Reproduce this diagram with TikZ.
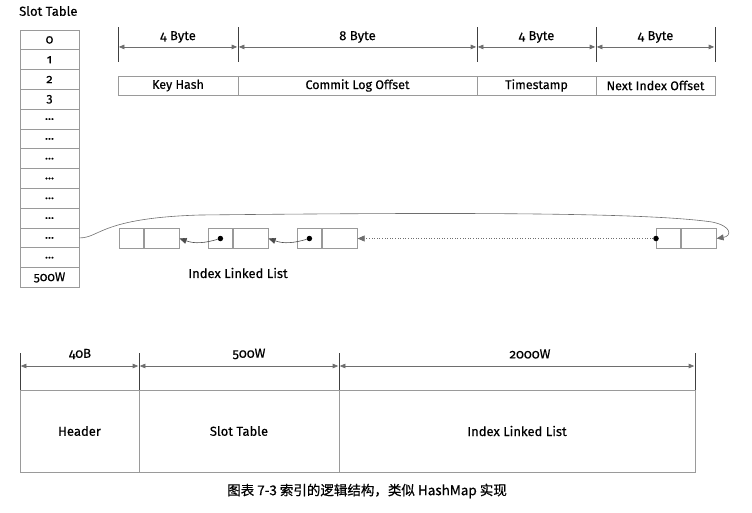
\documentclass[tikz,border=0pt]{standalone}
\usepackage{fontspec}
\setmainfont{Fira Sans}[Numbers=OldStyle,FakeBold=0.35]
\newfontfamily\cjk{Noto Sans CJK SC}[FakeBold=0.6]
\usetikzlibrary{arrows.meta,calc}
\definecolor{boxgray}{HTML}{9A9A9A}
\definecolor{linegray}{HTML}{6E6E6E}
\newcommand\sdots{...}
\tikzset{
  cellbox/.style={draw=boxgray, line width=0.8pt, inner sep=0pt, minimum height=19.8pt, font=\fontsize{12.5}{13}\selectfont},
  tickline/.style={draw=black!75, line width=0.7pt},
  dimline/.style={draw=linegray, line width=0.6pt, {Triangle[length=5.5pt,width=4.5pt]}-{Triangle[length=5.5pt,width=4.5pt]}},
  lbl/.style={inner sep=1pt, font=\fontsize{13}{14}\selectfont},
  ptr/.style={draw=black!70, line width=0.6pt, -{Triangle[length=7pt,width=6pt]}},
  dot/.style={circle, fill=black, inner sep=0pt, minimum size=5.5pt},
}
\begin{document}
\begin{tikzpicture}[x=1pt,y=-1pt]
\useasboundingbox (0,0) rectangle (752,512);
% Slot table
\node[lbl, anchor=west] (sttitle) at (18,11) {Slot Table};
\foreach \i/\t in {0/0,1/1,2/2,3/3,4/\sdots,5/\sdots,6/\sdots,7/\sdots,8/\sdots,9/\sdots,10/\sdots,11/\sdots,12/500W}{
  \node[cellbox, minimum width=59pt] (s\i) at (49.5,{30+9.9+19.8*\i}) {\t};
}
% record layout: ticks
\foreach \n/\x in {a/118,b/238,c/477,d/596,e/715}{
  \coordinate (t\n1) at (\x,27);
  \coordinate (t\n2) at (\x,62);
  \draw[tickline] (t\n1) -- (t\n2);
}
\foreach \p/\q/\t in {a/b/4 Byte,b/c/8 Byte,c/d/4 Byte,d/e/4 Byte}{
  \draw[dimline] ($(t\p1)!0.57!(t\p2)+(0.8,0)$) -- ($(t\q1)!0.57!(t\q2)-(0.8,0)$);
  \node[lbl] at ($(t\p1)!0.5!(t\q1)+(0,10)$) {\t};
}
% record fields
\foreach \n/\a/\b/\t in {f1/118/238/Key Hash,f2/238/477/Commit Log Offset,f3/477/596/Timestamp,f4/596/715/Next Index Offset}{
  \node[cellbox, minimum width={\b-\a}, minimum height=19pt] (\n) at ({(\a+\b)/2},85.5) {\t};
}
% linked list nodes
\foreach \n/\x in {1/119,2/208,3/297,4/656}{
  \node[cellbox, minimum width=24pt, anchor=west] (n\n a) at (\x,238.5) {};
  \node[cellbox, minimum width=35pt, anchor=west] (n\n b) at (n\n a.east) {};
}
\node[dot] (d2) at (n2a) {};
\node[dot] (d3) at (n3a) {};
\node[dot] (d4) at (n4a.west) {};
\draw[ptr] (d2) .. controls (205,243) and (195,244) .. (n1b.east);
\draw[ptr] (d3) .. controls (294,243) and (284,244) .. (n2b.east);
\draw[ptr, dotted, draw=linegray, line width=0.6pt] (d4) -- (n3b.east);
\draw[ptr, draw=linegray] (s10.east) .. controls (100,238) and (100,218) .. (200,215)
   .. controls (480,212) and (650,213) .. (712,222)
   .. controls (732,226) and (732,236) .. (n4b.east);
\node[lbl] (illabel) at (238,273) {Index Linked List};
% bottom layout
\foreach \n/\x in {a/20,b/139,c/339,d/695}{
  \coordinate (b\n1) at (\x,353);
  \coordinate (b\n2) at (\x,390);
  \draw[tickline] (b\n1) -- (b\n2);
}
\foreach \p/\q/\t in {a/b/40B,b/c/500W,c/d/2000W}{
  \draw[dimline] ($(b\p1)+(0.8,13)$) -- ($(b\q1)+(-0.8,13)$);
}
\node[lbl] at (80,354) {40B};
\node[lbl] at (249,354) {500W};
\node[lbl] at (530,354) {2000W};
\foreach \n/\a/\b/\t in {h1/20/139/Header,h2/139/339/Slot Table,h3/339/695/Index Linked List}{
  \node[cellbox, minimum width={\b-\a}, minimum height=82pt, font=\fontsize{13}{14}\selectfont] (\n) at ({(\a+\b)/2},431) {\t};
}
\node[inner sep=1pt, font=\cjk\fontsize{13.5}{15}\selectfont] (caption) at (367,491) {图表 7-3 索引的逻辑结构，类似 HashMap 实现};
\end{tikzpicture}
\end{document}
